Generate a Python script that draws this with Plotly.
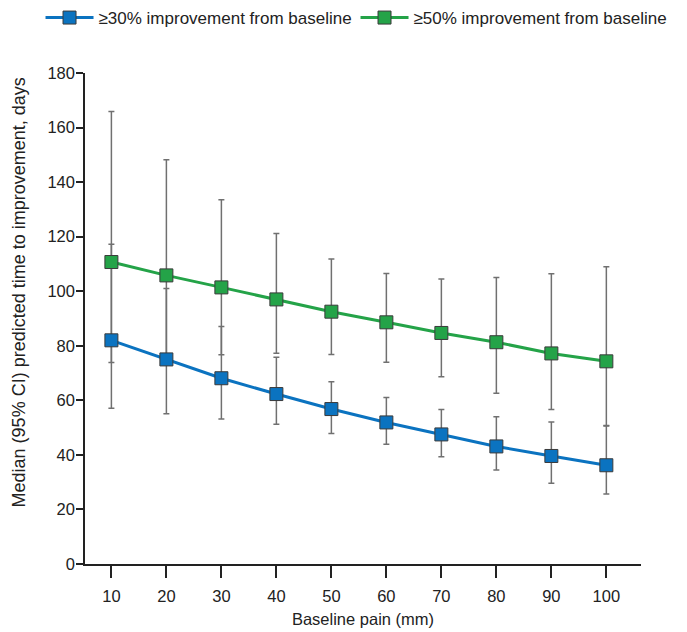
import plotly.graph_objects as go

baseline_pain = [10, 20, 30, 40, 50, 60, 70, 80, 90, 100]

s30_median = [82.0, 75.0, 68.1, 62.3, 56.8, 51.9, 47.5, 43.1, 39.6, 36.2]
s30_lower = [57.1, 55.1, 53.2, 51.2, 47.8, 43.9, 39.3, 34.5, 29.6, 25.7]
s30_upper = [117.2, 101.0, 87.1, 75.8, 66.8, 61.0, 56.6, 54.0, 52.1, 50.8]

s50_median = [110.7, 105.8, 101.4, 97.0, 92.5, 88.6, 84.7, 81.3, 77.2, 74.3]
s50_lower = [73.9, 75.2, 76.7, 77.3, 76.8, 74.0, 68.6, 62.6, 56.6, 50.6]
s50_upper = [165.9, 148.2, 133.5, 121.2, 111.8, 106.5, 104.5, 105.0, 106.4, 109.0]

names = ["≥30% improvement from baseline", "≥50% improvement from baseline"]
colors = ["#0b73c0", "#24a348"]
x_title = "Baseline pain (mm)"
y_title = "Median (95% CI) predicted time to improvement, days"

series = [
    (s30_median, s30_lower, s30_upper),
    (s50_median, s50_lower, s50_upper),
]

fig = go.Figure()
FONT = "Liberation Sans, Arial, sans-serif"
FS = 16.5

# Error bars first (beneath all lines and markers)
for med, lo, hi in series:
    fig.add_trace(go.Scatter(
        x=baseline_pain, y=med, mode="markers",
        marker=dict(size=1, opacity=0),
        error_y=dict(type="data", symmetric=False,
                     array=[h - m for h, m in zip(hi, med)],
                     arrayminus=[m - l for m, l in zip(med, lo)],
                     color="#707070", thickness=1.5, width=3),
        showlegend=False, hoverinfo="skip",
    ))

for (med, lo, hi), name, col in zip(series, names, colors):
    fig.add_trace(go.Scatter(
        x=baseline_pain, y=med, mode="lines+markers", name=name,
        line=dict(color=col, width=3),
        marker=dict(symbol="square", size=13, color=col,
                    line=dict(color="#3a3a3a", width=1)),
    ))

fig.add_annotation(
    text=y_title, textangle=-90, showarrow=False,
    xref="paper", yref="paper", x=-0.117, y=0.553,
    xanchor="center", yanchor="middle",
    font=dict(size=18, family=FONT, color="#222222"),
)

fig.update_layout(
    width=687, height=632,
    margin=dict(l=85, r=46, t=73, b=68, autoexpand=False),
    plot_bgcolor="white", paper_bgcolor="white",
    font=dict(family=FONT, size=FS, color="#222222"),
    showlegend=True,
    legend=dict(orientation="h", x=-0.080, xanchor="left", y=1.112, yanchor="middle",
                font=dict(size=17, color="#222222"), itemwidth=48,
                entrywidth=252, entrywidthmode="pixels",
                bgcolor="rgba(0,0,0,0)"),
    xaxis=dict(
        range=[5.2, 106.3], tickvals=baseline_pain, automargin=False,
        ticks="outside", ticklen=12, tickwidth=1.5, tickcolor="#222222",
        showline=True, linecolor="#222222", linewidth=1.5,
        showgrid=False, zeroline=False,
        ticklabelstandoff=4,
        title=dict(text=x_title, standoff=10, font=dict(size=FS)),
        tickfont=dict(size=FS),
    ),
    yaxis=dict(
        range=[0, 180], tickvals=list(range(0, 181, 20)), automargin=False,
        ticks="outside", ticklen=7, tickwidth=1.5, tickcolor="#222222",
        showline=True, linecolor="#222222", linewidth=1.5,
        showgrid=False, zeroline=False,
        ticklabelstandoff=-2,
        tickfont=dict(size=FS),
    ),
)

fig.write_html("out.html", config={"displayModeBar": False},
               post_script="document.body.style.margin='0';")
